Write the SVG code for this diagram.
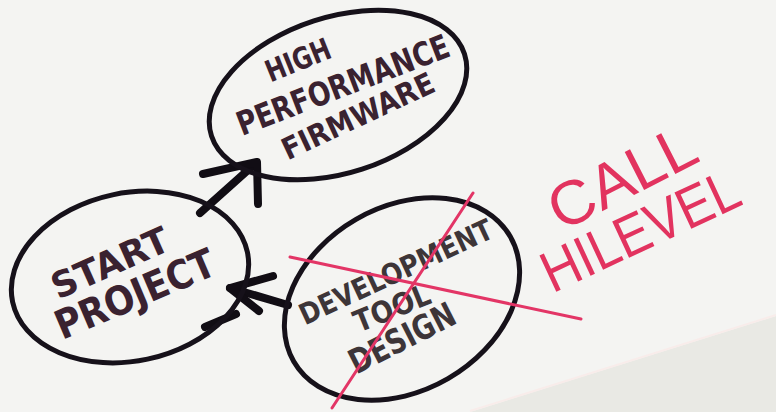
<svg xmlns="http://www.w3.org/2000/svg" width="776" height="412" viewBox="0 0 776 412">
<style>
.ell{fill:none;stroke:#16111a;stroke-width:5;}
.arr{fill:none;stroke:#110d14;stroke-width:8;stroke-linecap:round;stroke-linejoin:round;}
.red{fill:none;stroke:#e33566;stroke-width:3;stroke-linecap:round;}
.lbl{font-family:"DejaVu Sans","Liberation Sans",sans-serif;font-weight:bold;fill:#3a2230;text-anchor:middle;dominant-baseline:central;}
.dev{fill:#3d3538;}
.note{font-family:"Liberation Sans","DejaVu Sans",sans-serif;font-weight:normal;fill:#e2335f;text-anchor:middle;dominant-baseline:central;}
</style>
<rect width="776" height="412" fill="#f4f4f2"/>
<polygon points="470,412 776,316 776,412" fill="#e9e9e4"/>
<line x1="470" y1="411" x2="776" y2="315" stroke="#f8ecea" stroke-width="2"/>
<g id="connectors">
<path class="arr" d="M200,213 L256,163"/>
<path class="arr" d="M203,174 L257,162 L258,204"/>
<path class="arr" d="M288,305 L230,288"/>
<path class="arr" d="M273,276 L230,288 L259,311"/>
<path class="arr" d="M205,327 L236,314" stroke-width="6"/>
</g>
<g id="high-performance-firmware">
<ellipse class="ell" cx="338" cy="95" rx="133" ry="78" transform="rotate(-18 338 95)"/>
<text class="lbl" x="298" y="60" font-size="30" textLength="68" lengthAdjust="spacingAndGlyphs" transform="rotate(-22 298 60)">HIGH</text>
<text class="lbl" x="343" y="85" font-size="33" textLength="225" lengthAdjust="spacingAndGlyphs" transform="rotate(-21 343 85)">PERFORMANCE</text>
<text class="lbl" x="358" y="116" font-size="30" textLength="165" lengthAdjust="spacingAndGlyphs" transform="rotate(-25 358 116)">FIRMWARE</text>
</g>
<g id="start-project">
<ellipse class="ell" cx="130" cy="277" rx="120" ry="84" transform="rotate(-12 130 277)"/>
<text class="lbl" x="110" y="263" font-size="36" textLength="125" lengthAdjust="spacingAndGlyphs" transform="rotate(-24 110 263)">START</text>
<text class="lbl" x="135" y="294" font-size="40" textLength="170" lengthAdjust="spacingAndGlyphs" transform="rotate(-23 135 294)">PROJECT</text>
</g>
<g id="development-tool-design">
<ellipse class="ell" cx="402" cy="299" rx="125" ry="92" transform="rotate(-30 402 299)"/>
<text class="lbl dev" x="396" y="272" font-size="29" textLength="210" lengthAdjust="spacingAndGlyphs" transform="rotate(-25 396 272)">DEVELOPMENT</text>
<text class="lbl dev" x="392" y="308" font-size="30" textLength="80" lengthAdjust="spacingAndGlyphs" transform="rotate(-22 392 308)">TOOL</text>
<text class="lbl dev" x="402" y="338" font-size="34" textLength="115" lengthAdjust="spacingAndGlyphs" transform="rotate(-27 402 338)">DESIGN</text>
<line class="red" x1="290" y1="257" x2="581" y2="319"/>
<line class="red" x1="473" y1="193" x2="332" y2="408"/>
</g>
<g id="call-hilevel">
<text class="note" x="622" y="177" font-size="62" textLength="158" lengthAdjust="spacingAndGlyphs" transform="rotate(-27 622 177)">CALL</text>
<text class="note" x="640" y="230" font-size="58" textLength="212" lengthAdjust="spacingAndGlyphs" transform="rotate(-25 640 230)">HILEVEL</text>
</g>
</svg>
